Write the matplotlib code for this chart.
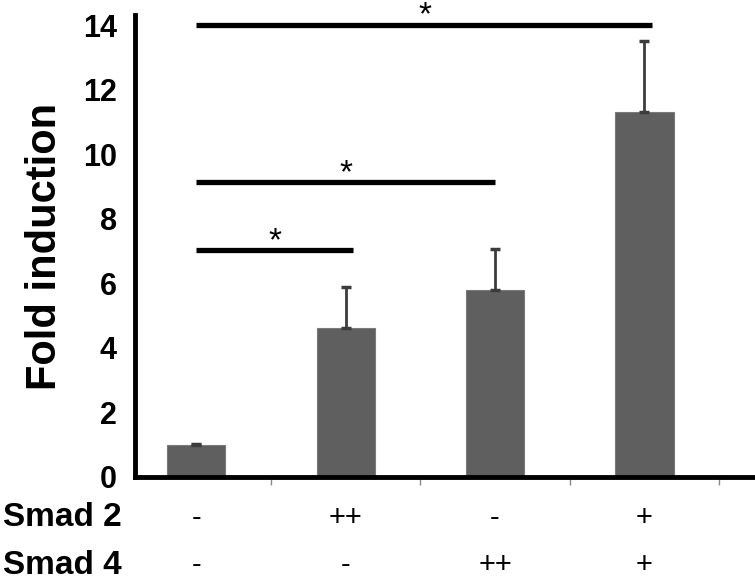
import matplotlib
matplotlib.use("Agg")
import matplotlib.pyplot as plt
from matplotlib.transforms import blended_transform_factory

conditions = ["c1", "c2", "c3", "c4"]
fold = [1.0, 4.6, 5.8, 11.3]
err_up = [0.02, 1.3, 1.25, 2.2]
smad2 = ["-", "++", "-", "+"]
smad4 = ["-", "-", "++", "+"]
yticks = [0, 2, 4, 6, 8, 10, 12, 14]
# significance brackets
sig_start = [0, 0, 0]
sig_end = [3.05, 2.0, 1.05]
sig_y = [14.0, 9.13, 7.02]
star_x = [1.53, 1.0, 0.53]
star_y = [14.3, 9.4, 7.3]

plt.rcParams['font.family'] = ['Liberation Sans', 'DejaVu Sans']

fig = plt.figure(figsize=(7.55, 5.81), dpi=100)
ax = fig.add_axes([135/755, 104/581, 620/755, 462/581])

x = list(range(len(conditions)))
ax.bar(x, fold, width=0.39, color="#5f5f5f", edgecolor="#7a7a7a", linewidth=0.8, zorder=2)
ax.errorbar(x, fold, yerr=[[0]*len(fold), err_up], fmt='none', ecolor="#3c3c3c",
            elinewidth=2, capsize=3.5, capthick=2.5, zorder=3)

ax.set_xlim(-0.41, 3.74)
ax.set_ylim(0, 14.31)

for s in ["top", "right"]:
    ax.spines[s].set_visible(False)
ax.spines["left"].set_linewidth(3.5)
ax.spines["bottom"].set_linewidth(3.5)

ax.set_yticks(yticks)
ax.set_yticklabels([str(v) for v in yticks], fontsize=22, fontweight="bold")
ax.tick_params(axis='y', length=0, pad=13)
ax.set_yticks([0], minor=True)
ax.tick_params(axis='y', which='minor', length=8, width=1, color="#888888")

ax.set_xticks([])
ax.set_xticks([0.5, 1.5, 2.5, 3.5], minor=True)
ax.tick_params(axis='x', which='minor', length=6, width=1, color="#888888", direction='out')

ax.set_ylabel("Fold induction", fontsize=30, fontweight="bold", labelpad=13)

for s0, e0, yy, sx, sy in zip(sig_start, sig_end, sig_y, star_x, star_y):
    ax.plot([s0, e0], [yy, yy], color="black", lw=3.8, solid_capstyle="butt", clip_on=False, zorder=4)
    ax.text(sx, sy, "*", fontsize=24, ha="center", va="center", clip_on=False)

trans = blended_transform_factory(ax.transData, fig.transFigure)
row_y = [1 - 518/581, 1 - 565/581]
for i in x:
    ax.text(i, row_y[0], smad2[i], fontsize=21, ha="center", va="center", transform=trans)
    ax.text(i, row_y[1], smad4[i], fontsize=21, ha="center", va="center", transform=trans)

fig.text(3/755, row_y[0], "Smad 2", fontsize=24, fontweight="bold", ha="left", va="center")
fig.text(3/755, row_y[1], "Smad 4", fontsize=24, fontweight="bold", ha="left", va="center")

fig.savefig("out.png", dpi=100)
